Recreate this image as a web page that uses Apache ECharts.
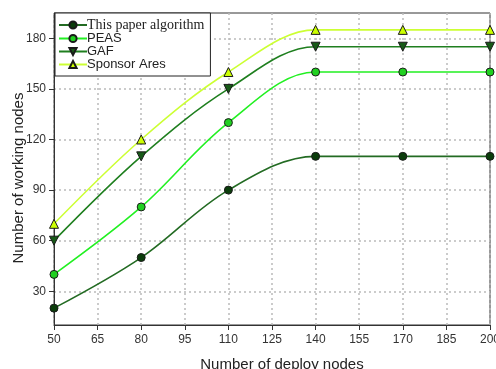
<!DOCTYPE html>
<html><head><meta charset="utf-8">
<script src="https://cdn.jsdelivr.net/npm/echarts@6/dist/echarts.min.js"></script>
<style>html,body{margin:0;padding:0;background:#fff}#c{width:496px;height:369px}</style>
</head><body><div id="c"></div>
<script>
const xValues = [50, 80, 110, 140, 170, 200];
const thisPaper = [20, 50, 90, 110, 110, 110];
const peas = [40, 80, 130, 160, 160, 160];
const gaf = [60, 110, 150, 175, 175, 175];
const sponsor = [70, 120, 160, 185, 185, 185];
const yTicks = [30, 60, 90, 120, 150, 180];
const seriesNames = ['This paper algorithm', 'PEAS', 'GAF', 'Sponsor Ares'];

const pairs = arr => arr.map((v, i) => [xValues[i], v]);
const chart = echarts.init(document.getElementById('c'));
const mk = (name, data, lineColor, markColor, symbol, rot) => ({
  name, type: 'line', data: pairs(data), smooth: 0.35,
  symbol, symbolSize: symbol === 'circle' ? 8 : 9, symbolRotate: rot || 0,
  lineStyle: { color: lineColor, width: 1.6 },
  itemStyle: { color: markColor, borderColor: '#1a1a1a', borderWidth: 1 },
  emphasis: { disabled: true }, z: 3
});
chart.setOption({
  animation: false,
  grid: { left: 54, right: 6, top: 13, bottom: 44, show: true, borderColor: '#333', borderWidth: 1, outerBoundsMode: 'none', containLabel: false },
  legend: {
    left: 55, top: 13, orient: 'vertical', itemGap: 0, itemWidth: 28, itemHeight: 9,
    padding: [5, 6, 5, 3], borderColor: '#222', borderWidth: 1, backgroundColor: '#fff',
    textStyle: { fontFamily: 'Liberation Sans, Arial', fontSize: 13, lineHeight: 12.5, color: '#222', padding: [0, 0, 0, -5] },
    data: [
      { name: seriesNames[0], textStyle: { fontFamily: 'Liberation Serif, Times New Roman', fontSize: 14 } },
      { name: seriesNames[1] }, { name: seriesNames[2] }, { name: seriesNames[3] }
    ]
  },
  xAxis: {
    type: 'value', min: 50, max: 200, interval: 15,
    name: 'Number of deploy nodes', nameLocation: 'middle', nameGap: 32, nameMoveOverlap: false,
    nameTextStyle: { fontFamily: 'Liberation Sans, Arial', fontSize: 15, color: '#222', padding: [0, 0, 0, 20] },
    axisLine: { lineStyle: { color: '#333' } },
    axisTick: { show: true, inside: false, length: 5, lineStyle: { color: '#333' } },
    axisLabel: { fontFamily: 'Liberation Sans, Arial', fontSize: 12, color: '#333', margin: 9, showMaxLabel: true, hideOverlap: false },
    splitLine: { show: true, lineStyle: { color: '#bbb', type: [2, 3], width: 1.5 } }
  },
  yAxis: {
    type: 'value', min: 10, max: 195,
    name: 'Number of working nodes', nameLocation: 'middle', nameGap: 28, nameMoveOverlap: false,
    nameTextStyle: { fontFamily: 'Liberation Sans, Arial', fontSize: 15, color: '#222', padding: [0, 18, 0, 0] },
    axisLine: { show: true, lineStyle: { color: '#333' } },
    axisTick: { show: true, length: 5, customValues: yTicks, lineStyle: { color: '#333' } },
    axisLabel: { fontFamily: 'Liberation Sans, Arial', fontSize: 12, color: '#333', customValues: yTicks, margin: 8 },
    splitLine: { show: true, lineStyle: { color: '#bbb', type: [2, 3], width: 1.5 } }
  },
  series: [
    mk(seriesNames[0], thisPaper, '#236b23', '#0b3d0b', 'circle'),
    mk(seriesNames[1], peas, '#22f022', '#20d020', 'circle'),
    mk(seriesNames[2], gaf, '#1f7f1f', '#175a17', 'triangle', 180),
    mk(seriesNames[3], sponsor, '#ccff33', '#ccff00', 'triangle')
  ]
});
</script></body></html>
